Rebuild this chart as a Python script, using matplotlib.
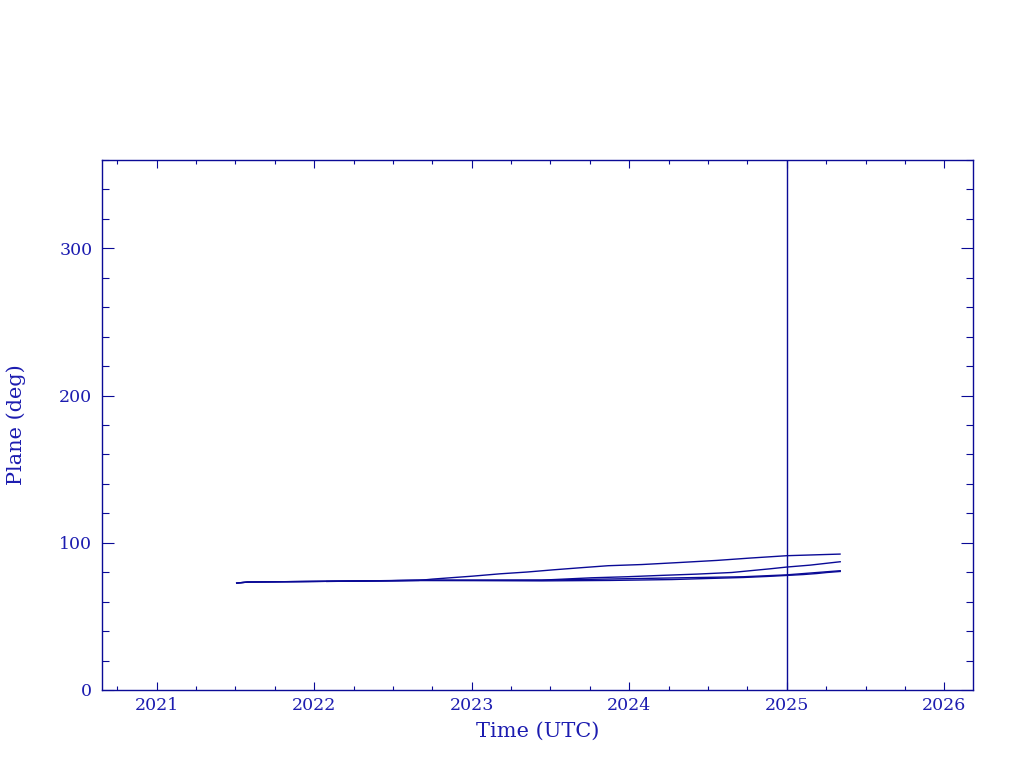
import numpy as np
import matplotlib
matplotlib.use("Agg")
import matplotlib.pyplot as plt
from matplotlib.ticker import MultipleLocator


# Data (decimal year, plane in deg) ------------------------------------

Year_A = [2021.508, 2021.576, 2022.663, 2022.750, 2023.004, 2023.180, 2023.350,
          2023.517, 2023.688, 2023.866, 2024.080, 2024.323, 2024.556, 2024.767,
          2025.000, 2025.243, 2025.338]
Deg_A = [72.6, 73.3, 74.4, 75.3, 77.3, 78.9, 80.1,
         81.6, 83.0, 84.4, 85.2, 86.6, 88.0, 89.6,
         91.2, 92.0, 92.3]

Year_B = [2021.508, 2021.576, 2022.663, 2023.444, 2023.762, 2023.984, 2024.196,
          2024.429, 2024.651, 2024.767, 2024.894, 2025.000, 2025.148, 2025.339]
Deg_B = [72.6, 73.3, 74.4, 74.6, 76.2, 76.9, 77.8,
         78.7, 79.8, 81.0, 82.3, 83.5, 84.8, 87.1]

Year_C = [2021.508, 2021.576, 2022.663, 2023.444, 2023.878, 2024.270, 2024.492,
          2024.723, 2024.873, 2025.000, 2025.104, 2025.191, 2025.254, 2025.339]
Deg_C = [72.6, 73.3, 74.4, 74.1, 74.4, 75.0, 75.7,
         76.4, 77.1, 77.8, 78.4, 79.1, 79.8, 80.5]

Year_D = [2022.080, 2022.663, 2023.444, 2024.723, 2025.000, 2025.339]
Deg_D = [73.7, 74.6, 74.6, 76.9, 78.2, 81.0]

Marker_Year = 2025.0

X_Ticks = [2021, 2022, 2023, 2024, 2025, 2026]


# Plotting --------------------------------------------------------------

Text_Color = "#1c1cb0"
Line_Color = "#0a0a96"
Font = "DejaVu Serif"

plt.rcParams["font.family"] = Font

fig = plt.figure(figsize= (10.24, 7.68), dpi= 100)
ax = fig.add_axes([0.0996, 0.1016, 0.8506, 0.6901])

for Yr, Dg in [(Year_A, Deg_A), (Year_B, Deg_B), (Year_C, Deg_C), (Year_D, Deg_D)]:
    ax.plot(Yr, Dg, color= Line_Color, lw= 1.0)

ax.axvline(Marker_Year, color= Line_Color, lw= 1.0)

ax.set_xlim(2020.653, 2026.182)
ax.set_ylim(0, 360)

ax.set_xticks(X_Ticks)
ax.set_xticklabels([str(t) for t in X_Ticks])
ax.xaxis.set_minor_locator(MultipleLocator(0.25))
ax.yaxis.set_major_locator(MultipleLocator(100))
ax.yaxis.set_minor_locator(MultipleLocator(20))

for s in ax.spines.values():
    s.set_color(Line_Color)
    s.set_linewidth(1.0)

ax.tick_params(axis= "both", which= "both", direction= "in", top= True, right= True,
               color= Line_Color, labelcolor= Text_Color, labelsize= 12.5, width= 0.8)
ax.tick_params(axis= "x", which= "major", length= 5.5, pad= 5)
ax.tick_params(axis= "x", which= "minor", length= 2.7)
ax.tick_params(axis= "y", which= "major", length= 8.5, pad= 7)
ax.tick_params(axis= "y", which= "minor", length= 5)

ax.set_xlabel("Time (UTC)", color= Text_Color, fontsize= 15, labelpad= 6)
ax.set_ylabel("Plane (deg)", color= Text_Color, fontsize= 15, labelpad= 24)

plt.savefig("out.png", dpi= 100)
